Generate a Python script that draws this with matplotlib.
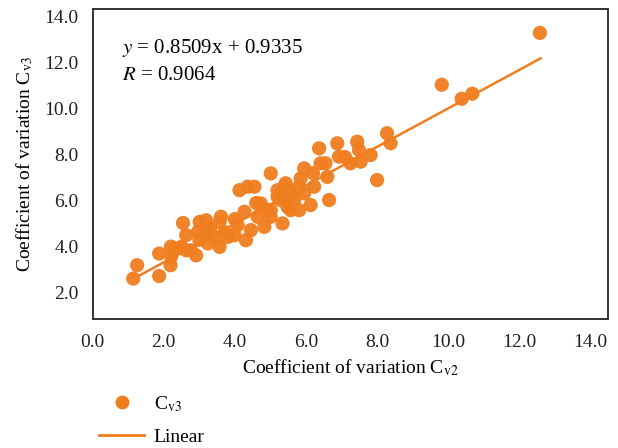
import numpy as np
import matplotlib.pyplot as plt
from matplotlib.lines import Line2D

plt.rcParams['font.family'] = ['Liberation Serif', 'DejaVu Serif']
plt.rcParams['mathtext.fontset'] = 'stix'

# Coeficientes de variación
cv2 = [1.14, 1.25, 1.87, 1.87, 2.19, 2.21, 2.31, 2.49, 2.63, 2.54, 2.63, 2.77,
       2.91, 2.96, 3.01, 3.19, 3.19, 3.24, 3.43, 3.57, 3.57, 3.61, 3.71, 3.80,
       3.99, 4.08, 4.13, 4.31, 4.27, 4.36, 4.55, 4.45, 4.64, 4.73, 4.83, 5.01,
       5.01, 5.20, 5.34, 5.39, 5.48, 5.20, 5.43, 5.29, 5.67, 5.57, 5.85, 5.95,
       5.81, 6.13, 5.95, 6.23, 6.37, 6.41, 6.55, 6.60, 6.65, 6.88, 6.93, 7.25,
       7.44, 7.49, 7.54, 7.82, 8.00, 8.28, 8.38, 9.82, 10.38, 10.68, 12.58, 5.01,
       4.90, 5.60, 4.00, 3.30, 6.20, 5.80, 4.60, 2.20, 3.00, 7.10]
cv3 = [2.61, 3.19, 2.72, 3.70, 3.19, 3.58, 3.92, 3.99, 3.84, 5.03, 4.50, 3.84,
       3.62, 4.64, 5.08, 5.15, 4.64, 4.14, 4.42, 3.99, 5.08, 5.30, 4.64, 4.42,
       4.50, 4.93, 6.46, 4.28, 5.52, 6.61, 6.61, 4.72, 5.30, 5.88, 4.86, 7.19,
       5.59, 6.17, 5.01, 6.61, 5.73, 6.46, 6.76, 6.03, 6.03, 5.59, 6.97, 7.41,
       5.59, 5.81, 6.32, 6.61, 8.28, 7.63, 7.63, 7.04, 6.03, 8.50, 7.92, 7.63,
       8.57, 8.21, 7.70, 7.99, 6.90, 8.94, 8.50, 11.05, 10.44, 10.66, 13.31, 5.30,
       5.60, 6.30, 5.20, 4.80, 7.20, 6.60, 5.90, 4.00, 4.30, 7.90]

# Recta de ajuste tal como aparece dibujada
slope, intercept = 0.838, 1.64
x_fit = np.array([1.32, 12.6])

color = '#F07D1E'

fig = plt.figure(figsize=(6.18, 4.48), dpi=100)
ax = fig.add_axes([0.150, 0.288, 0.834, 0.692])

ax.scatter(cv2, cv3, s=105, color=color, edgecolors='none', alpha=0.95, zorder=3)
ax.plot(x_fit, slope * x_fit + intercept, color=color, lw=1.8, zorder=2)

ax.set_xlim(0, 14.5)
ax.set_ylim(0.85, 14.35)
ax.set_xticks(np.arange(0, 15, 2))
ax.set_yticks(np.arange(2, 15, 2))
ax.set_xticklabels([f'{v:.1f}' for v in np.arange(0, 15, 2)])
ax.set_yticklabels([f'{v:.1f}' for v in np.arange(2, 15, 2)])
ax.tick_params(length=0, labelsize=14, colors='#222222')
ax.tick_params(axis='x', pad=11)
ax.tick_params(axis='y', pad=10)
for sp in ax.spines.values():
    sp.set_color('#333333')
    sp.set_linewidth(1.4)

ax.set_xlabel('Coefficient of variation C$_{\\mathrm{v2}}$', fontsize=14, labelpad=4)
ax.set_ylabel('Coefficient of variation C$_{\\mathrm{v3}}$', fontsize=14, labelpad=7)

ax.text(0.056, 0.874, '$y$ = 0.8509x + 0.9335', transform=ax.transAxes,
        fontsize=15, va='center')
ax.text(0.056, 0.784, '$R$ = 0.9064', transform=ax.transAxes,
        fontsize=15, va='center')

handles = [Line2D([], [], ls='none', marker='o', ms=10, color=color, mec='none'),
           Line2D([], [], color=color, lw=2)]
fig.legend(handles, ['C$_{\\mathrm{v3}}$', 'Linear'], loc='upper left',
           bbox_to_anchor=(0.145, 0.142), frameon=False, fontsize=14,
           handlelength=2.3, labelspacing=0.75, handletextpad=0.5, borderpad=0)

plt.savefig('out.png', dpi=100)
